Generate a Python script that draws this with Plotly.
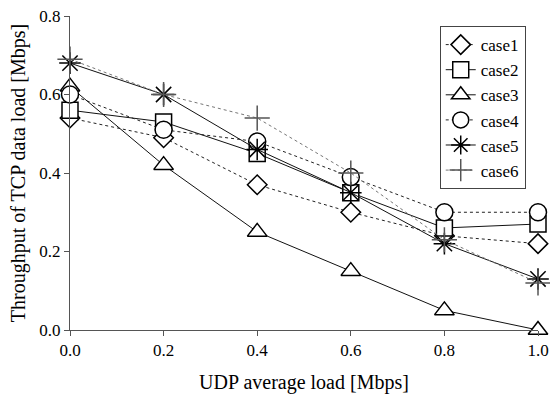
import plotly.graph_objects as go

x_vals = [0.0, 0.2, 0.4, 0.6, 0.8, 1.0]
case1 = [0.54, 0.49, 0.37, 0.30, 0.24, 0.22]
case2 = [0.56, 0.53, 0.45, 0.35, 0.26, 0.27]
case3 = [0.62, 0.42, 0.25, 0.15, 0.05, 0.00]
case4 = [0.60, 0.51, 0.48, 0.39, 0.30, 0.30]
case5 = [0.68, 0.60, 0.46, 0.35, 0.22, 0.13]
case6 = [0.69, 0.60, 0.54, 0.40, 0.23, 0.12]
names = ["case1", "case2", "case3", "case4", "case5", "case6"]
x_ticks = ["0.0", "0.2", "0.4", "0.6", "0.8", "1.0"]
y_ticks = ["0.0", "0.2", "0.4", "0.6", "0.8"]

series = [case1, case2, case3, case4, case5, case6]
symbols = ["diamond", "square", "triangle-up", "circle", "asterisk-open", "cross-thin-open"]
dashes = ["dot", "solid", "solid", "dot", "solid", "dot"]
lcolors = ["#222", "#111", "#111", "#222", "#111", "#777"]
fills = ["white", "white", "white", "white", "black", "#555"]
sizes = [15, 16, 17, 17, 18, 18]

fig = go.Figure()
for n, s, sym, d, c, f, sz in zip(names, series, symbols, dashes, lcolors, fills, sizes):
    fig.add_trace(go.Scatter(
        x=x_vals, y=s, name=n, mode="lines+markers",
        line=dict(color=c, width=1, dash=d),
        marker=dict(symbol=sym, size=sz, color=f,
                    line=dict(color="black" if n != "case6" else "#555", width=1.5)),
        cliponaxis=False,
    ))

font = "Liberation Serif"
fig.update_layout(
    width=550, height=394,
    margin=dict(l=70, r=12, t=16, b=64, autoexpand=False),
    plot_bgcolor="white", paper_bgcolor="white",
    font=dict(family=font, size=17, color="black"),
    showlegend=True,
    legend=dict(x=0.79, y=0.968, xanchor="left", yanchor="top",
                bgcolor="white", bordercolor="#444", borderwidth=1,
                font=dict(family="Liberation Serif", size=17, color="black"),
                tracegroupgap=0),
    xaxis=dict(range=[0, 1.0], tickmode="array", tickvals=x_vals, ticktext=x_ticks,
               showgrid=False, zeroline=False, showline=True, linecolor="#555",
               linewidth=1, ticks="outside", ticklen=5, tickcolor="#555",
               automargin=False,
               title=dict(text="UDP average load [Mbps]", standoff=15)),
    yaxis=dict(range=[0, 0.8], tickmode="array", tickvals=[0, 0.2, 0.4, 0.6, 0.8],
               ticktext=y_ticks, showgrid=False, zeroline=False, showline=True,
               linecolor="#555", linewidth=1, ticks="outside", ticklen=5,
               tickcolor="#555", automargin=False,
               title=dict(text="Throughput of TCP data load [Mbps]", standoff=8)),
)

fig.write_html("out.html")
